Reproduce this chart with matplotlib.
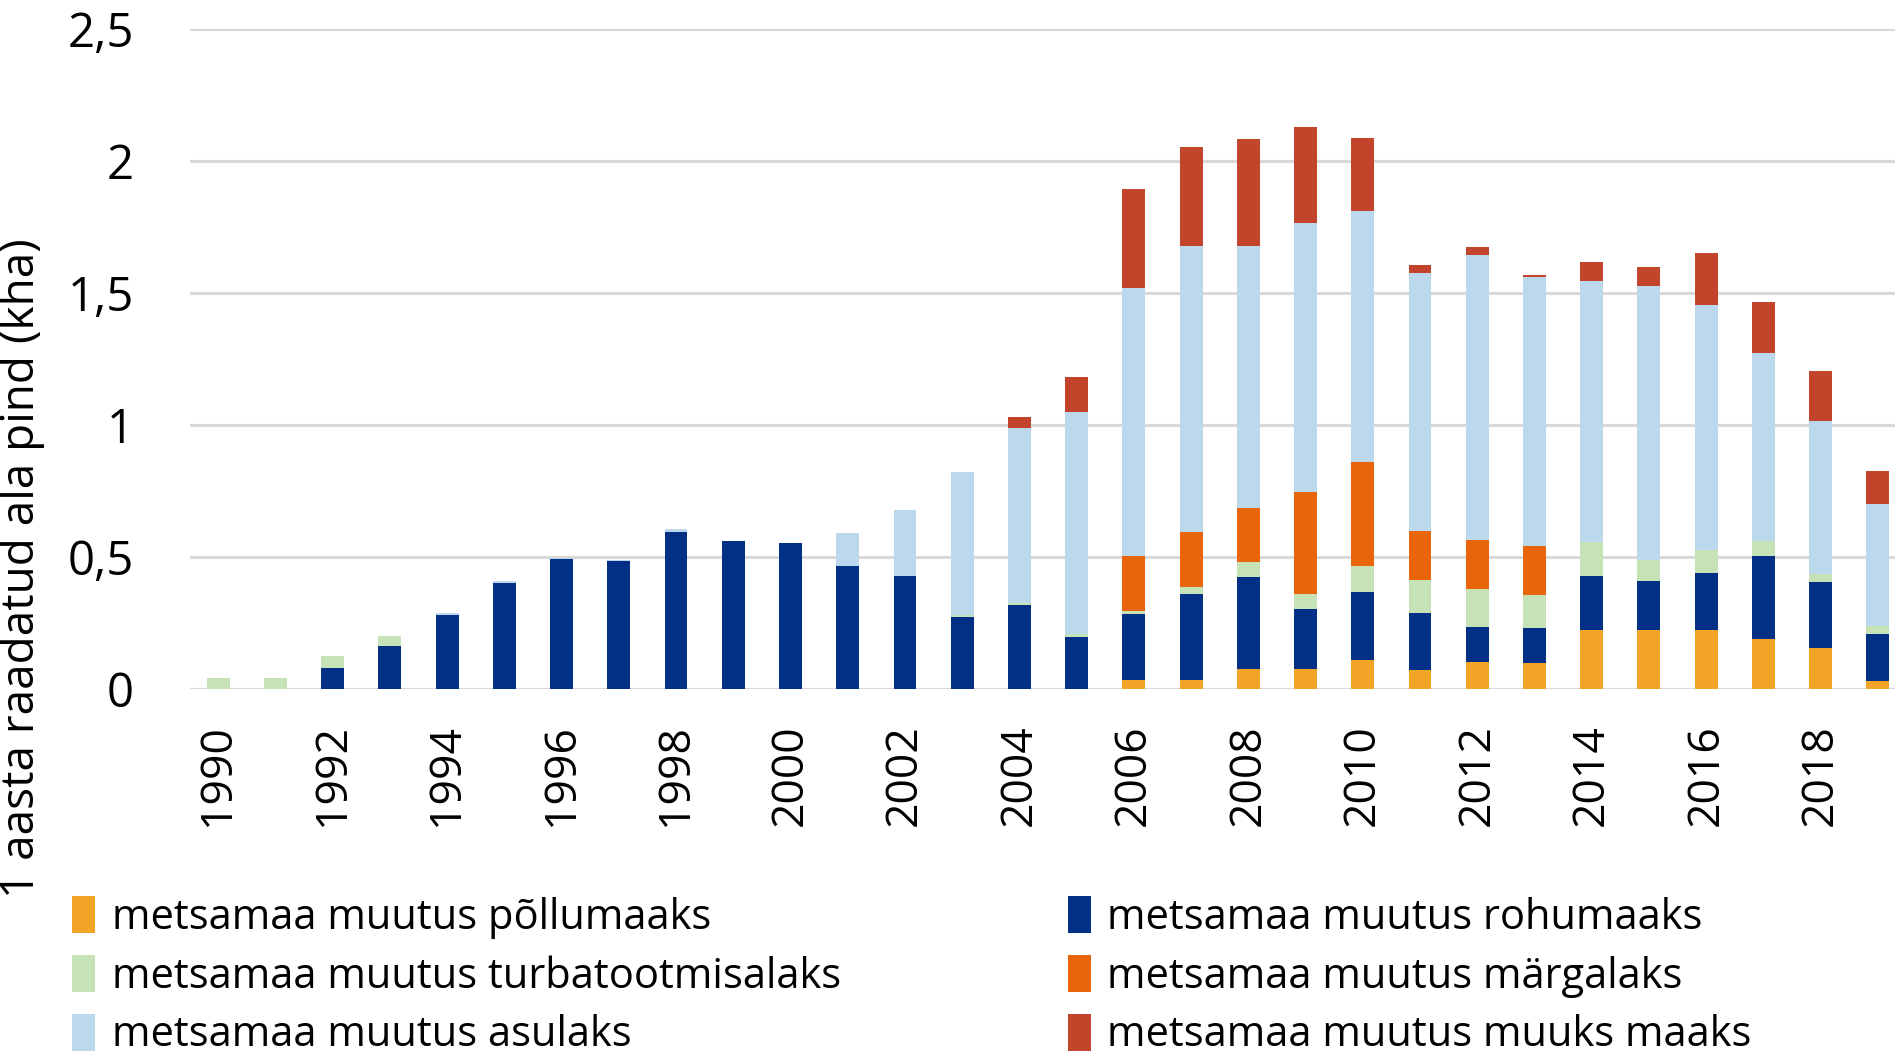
import matplotlib
matplotlib.use("Agg")
import matplotlib.pyplot as plt
import numpy as np
from matplotlib.patches import Patch

plt.rcParams['font.family'] = ['Open Sans', 'DejaVu Sans']

years = list(range(1990, 2020))
tick_years = [str(y) for y in range(1990, 2020, 2)]

pollumaaks = [0, 0, 0, 0, 0, 0, 0, 0, 0, 0, 0, 0, 0, 0, 0, 0,
              0.034, 0.034, 0.076, 0.076, 0.108, 0.071, 0.101, 0.096, 0.222, 0.222, 0.222, 0.19, 0.154, 0.03]
rohumaaks = [0, 0, 0.08, 0.16, 0.28, 0.40, 0.49, 0.485, 0.595, 0.56, 0.55, 0.466, 0.428, 0.27, 0.316, 0.196,
             0.248, 0.326, 0.348, 0.224, 0.259, 0.214, 0.134, 0.134, 0.206, 0.185, 0.217, 0.313, 0.25, 0.179]
turbatootmisalaks = [0.04, 0.04, 0.045, 0.04, 0, 0, 0, 0, 0, 0, 0, 0, 0, 0.01, 0.01, 0.01,
                     0.012, 0.025, 0.055, 0.057, 0.097, 0.125, 0.143, 0.126, 0.128, 0.082, 0.088, 0.056, 0.032, 0.029]
margalaks = [0, 0, 0, 0, 0, 0, 0, 0, 0, 0, 0, 0, 0, 0, 0, 0,
             0.208, 0.207, 0.207, 0.389, 0.395, 0.187, 0.186, 0.186, 0, 0, 0, 0, 0, 0]
asulaks = [0, 0, 0, 0, 0.005, 0.008, 0.004, 0.004, 0.008, 0, 0, 0.125, 0.248, 0.54, 0.66, 0.843,
           1.016, 1.084, 0.99, 1.016, 0.949, 0.977, 1.077, 1.018, 0.988, 1.035, 0.925, 0.711, 0.578, 0.461]
muuks_maaks = [0, 0, 0, 0, 0, 0, 0, 0, 0, 0, 0, 0, 0, 0, 0.042, 0.13,
               0.376, 0.376, 0.405, 0.364, 0.279, 0.031, 0.031, 0.007, 0.072, 0.072, 0.198, 0.196, 0.189, 0.125]

series = [
    ("metsamaa muutus põllumaaks", pollumaaks, "#F2A427"),
    ("metsamaa muutus rohumaaks", rohumaaks, "#023087"),
    ("metsamaa muutus turbatootmisalaks", turbatootmisalaks, "#C8E2B8"),
    ("metsamaa muutus märgalaks", margalaks, "#E8650A"),
    ("metsamaa muutus asulaks", asulaks, "#BBD8EC"),
    ("metsamaa muutus muuks maaks", muuks_maaks, "#C1442B"),
]

fig = plt.figure(figsize=(18.95, 10.55), dpi=100)
left = 189.6 / 1895
bottom = 1 - 688.7 / 1055
top = 1 - 28.5 / 1055
ax = fig.add_axes([left, bottom, 1 - left, top - bottom])

x = np.arange(len(years))
base = np.zeros(len(years))
handles = {}
for name, vals, col in series:
    v = np.array(vals)
    ax.bar(x, v, width=0.40, bottom=base, color=col, edgecolor='none', zorder=3)
    base += v
    handles[name] = Patch(facecolor=col, edgecolor='none')

ax.set_xlim(-0.5, 29.3)
ax.set_ylim(0, 2.5)
ax.set_yticks([0, 0.5, 1, 1.5, 2, 2.5])
ax.set_yticklabels(["0", "0,5", "1", "1,5", "2", "2,5"])
ax.set_xticks(x[::2])
ax.set_xticklabels(tick_years, rotation=90, va='top', ha='center')
ax.grid(axis='y', color='#d9d9d9', linewidth=2.2, zorder=0)
for s in ax.spines.values():
    s.set_visible(False)
ax.tick_params(axis='both', length=0, colors='black')
ax.tick_params(axis='y', pad=40, labelsize=34)
ax.tick_params(axis='x', pad=25.5, labelsize=32)

fig.text(22 / 1895, 1 - 568 / 1055, "1 aasta raadatud ala pind (kha)", rotation=90,
         va='center', ha='center', fontsize=33)

order = ["metsamaa muutus põllumaaks", "metsamaa muutus turbatootmisalaks", "metsamaa muutus asulaks",
         "metsamaa muutus rohumaaks", "metsamaa muutus märgalaks", "metsamaa muutus muuks maaks"]
leg = fig.legend([handles[n] for n in order], order, ncol=2, loc='upper left',
                 bbox_to_anchor=(72 / 1895, 1 - 896 / 1055), frameon=False, fontsize=30,
                 handlelength=0.55, handleheight=1.0, handletextpad=0.4, columnspacing=5.45,
                 labelspacing=0.38, borderaxespad=0, borderpad=0)

fig.savefig("out.png", dpi=100)
